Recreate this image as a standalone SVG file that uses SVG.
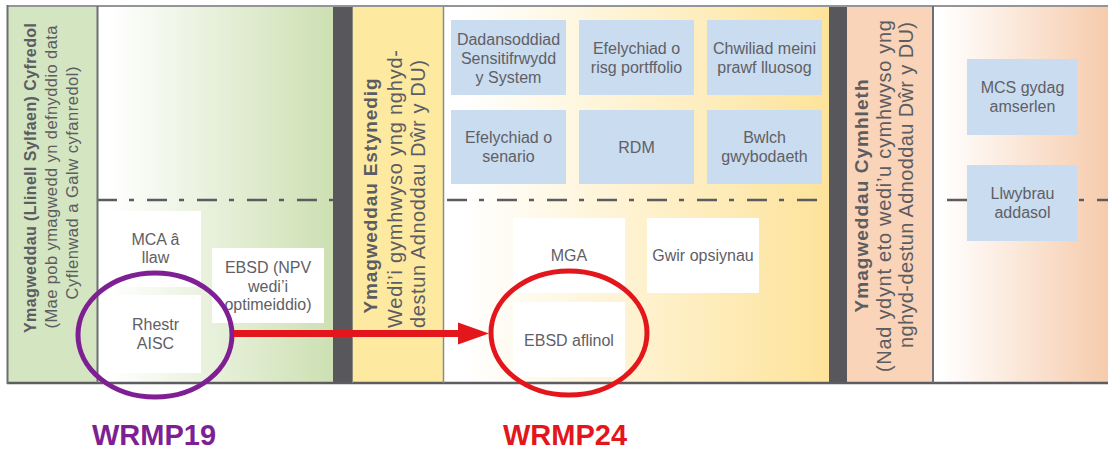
<svg xmlns="http://www.w3.org/2000/svg" width="1108" height="450" viewBox="0 0 1108 450">
<defs>
<linearGradient id="gGreen" x1="0" y1="0" x2="1" y2="0">
<stop offset="0" stop-color="#ffffff"/><stop offset="0.05" stop-color="#ffffff"/><stop offset="1" stop-color="#cde0b2"/>
</linearGradient>
<linearGradient id="gYellow" x1="0" y1="0" x2="1" y2="0">
<stop offset="0" stop-color="#ffffff"/><stop offset="0.05" stop-color="#ffffff"/><stop offset="1" stop-color="#fde39a"/>
</linearGradient>
<linearGradient id="gOrange" x1="0" y1="0" x2="1" y2="0">
<stop offset="0" stop-color="#ffffff"/><stop offset="0.05" stop-color="#ffffff"/><stop offset="1" stop-color="#f6cbac"/>
</linearGradient>
<style>
.t{font-family:"Liberation Sans",Arial,sans-serif;font-size:16px;fill:#5f6065;text-anchor:middle}
.v{font-family:"Liberation Sans",Arial,sans-serif;fill:#5c5d62;text-anchor:middle}
.b{font-weight:bold}
.blue{fill:#cadcf0}
.white{fill:#ffffff}
.bar{fill:#58575c}
.lab{font-family:"Liberation Sans",Arial,sans-serif;font-size:29px;font-weight:bold;text-anchor:start}
</style>
</defs>

<g id="background">
<rect x="98" y="6" width="235" height="377" fill="url(#gGreen)"/>
<rect x="444" y="6" width="385" height="377" fill="url(#gYellow)"/>
<rect x="933" y="6" width="175" height="377" fill="url(#gOrange)"/>
<line x1="97" y1="200" x2="1108" y2="200" stroke="#5c5b60" stroke-width="2.5" stroke-dasharray="20 12 5 13"/>
</g>

<g id="col-current">
<rect x="8" y="6" width="89" height="377" fill="#d4e5c1"/>
<text class="v b" font-size="16" transform="translate(36,178) rotate(-90)" textLength="310" lengthAdjust="spacing">Ymagweddau (Llinell Sylfaen) Cyfredol</text>
<text class="v" font-size="16.5" transform="translate(57,177) rotate(-90)" textLength="303" lengthAdjust="spacing">(Mae pob ymagwedd yn defnyddio data</text>
<text class="v" font-size="16.5" transform="translate(78,183) rotate(-90)" textLength="233" lengthAdjust="spacing">Cyflenwad a Galw cyfanredol)</text>
</g>

<rect class="bar" x="333" y="6" width="19" height="377"/>

<g id="col-extended">
<rect x="352" y="6" width="92" height="377" fill="#fee9a1"/>
<text class="v b" font-size="19" transform="translate(377,196) rotate(-90)" textLength="235" lengthAdjust="spacing">Ymagweddau Estynedig</text>
<text class="v" font-size="20" transform="translate(402,189) rotate(-90)" textLength="278" lengthAdjust="spacing">Wedi’i gymhwyso yng nghyd-</text>
<text class="v" font-size="20" transform="translate(425,194) rotate(-90)" textLength="268" lengthAdjust="spacing">destun Adnoddau Dŵr y DU)</text>
</g>

<rect class="bar" x="829" y="6" width="18" height="377"/>

<g id="col-complex">
<rect x="847" y="6" width="86" height="377" fill="#f9d4b8"/>
<text class="v b" font-size="19" transform="translate(868,196) rotate(-90)" textLength="233" lengthAdjust="spacing">Ymagweddau Cymhleth</text>
<text class="v" font-size="20" transform="translate(891,196) rotate(-90)" textLength="352" lengthAdjust="spacing">(Nad ydynt eto wedi’u cymhwyso yng</text>
<text class="v" font-size="20" transform="translate(913,185) rotate(-90)" textLength="326" lengthAdjust="spacing">nghyd-destun Adnoddau Dŵr y DU)</text>
</g>

<g id="borders" fill="none">
<line x1="7" y1="6" x2="1108" y2="6" stroke="#949599" stroke-width="2"/>
<line x1="7" y1="383" x2="1108" y2="383" stroke="#5d5d61" stroke-width="2.5"/>
<line x1="7.5" y1="5" x2="7.5" y2="384" stroke="#6d6e71" stroke-width="2"/>
<line x1="97.5" y1="6" x2="97.5" y2="383" stroke="#6d6e71" stroke-width="2"/>
<line x1="352.5" y1="6" x2="352.5" y2="383" stroke="#8a8a7a" stroke-width="1"/>
<line x1="443.5" y1="6" x2="443.5" y2="383" stroke="#8a8a8d" stroke-width="1.5"/>
<line x1="933" y1="6" x2="933" y2="383" stroke="#6d6e71" stroke-width="2"/>
</g>

<g id="n-mca">
<rect class="white" x="110" y="211" width="91" height="76"/>
<text class="t" x="155.5" y="245">MCA â</text>
<text class="t" x="155.5" y="263">llaw</text>
</g>
<g id="n-rhestr">
<rect class="white" x="110" y="295" width="91" height="78"/>
<text class="t" x="155.5" y="330">Rhestr</text>
<text class="t" x="155.5" y="349">AISC</text>
</g>
<g id="n-ebsd-npv">
<rect class="white" x="212" y="248" width="112" height="75"/>
<text class="t" x="268" y="273">EBSD (NPV</text>
<text class="t" x="268" y="292">wedi’i</text>
<text class="t" x="268" y="310">optimeiddio)</text>
</g>

<g id="n-dadansoddiad">
<rect class="blue" x="451" y="20" width="115" height="75"/>
<text class="t" x="508.5" y="45">Dadansoddiad</text>
<text class="t" x="508.5" y="64">Sensitifrwydd</text>
<text class="t" x="508.5" y="83">y System</text>
</g>
<g id="n-efelychiad-risg">
<rect class="blue" x="579" y="20" width="115" height="75"/>
<text class="t" x="636.5" y="54">Efelychiad o</text>
<text class="t" x="636.5" y="73">risg portffolio</text>
</g>
<g id="n-chwiliad">
<rect class="blue" x="707" y="20" width="115" height="75"/>
<text class="t" x="764.5" y="54">Chwiliad meini</text>
<text class="t" x="764.5" y="73">prawf lluosog</text>
</g>
<g id="n-efelychiad-senario">
<rect class="blue" x="451" y="110" width="115" height="74"/>
<text class="t" x="508.5" y="143">Efelychiad o</text>
<text class="t" x="508.5" y="162">senario</text>
</g>
<g id="n-rdm">
<rect class="blue" x="579" y="110" width="115" height="74"/>
<text class="t" x="636.5" y="153">RDM</text>
</g>
<g id="n-bwlch">
<rect class="blue" x="707" y="110" width="115" height="74"/>
<text class="t" x="764.5" y="143">Bwlch</text>
<text class="t" x="764.5" y="162">gwybodaeth</text>
</g>

<g id="n-mga">
<rect class="white" x="513" y="218" width="112" height="75"/>
<text class="t" x="569" y="261">MGA</text>
</g>
<g id="n-gwir">
<rect class="white" x="647" y="218" width="112" height="75"/>
<text class="t" x="703" y="261">Gwir opsiynau</text>
</g>
<g id="n-ebsd-aflinol">
<rect class="white" x="513" y="302" width="112" height="75"/>
<text class="t" x="569" y="346">EBSD aflinol</text>
</g>

<g id="n-mcs">
<rect class="blue" x="967" y="59" width="111" height="76"/>
<text class="t" x="1022.5" y="93">MCS gydag</text>
<text class="t" x="1022.5" y="112">amserlen</text>
</g>
<g id="n-llwybrau">
<rect class="blue" x="967" y="165" width="111" height="76"/>
<text class="t" x="1022.5" y="199">Llwybrau</text>
<text class="t" x="1022.5" y="218">addasol</text>
</g>

<g id="n-wrmp19">
<ellipse cx="155" cy="335" rx="77" ry="62" fill="none" stroke="#7e1f94" stroke-width="5"/>
<text class="lab" x="92" y="445" fill="#7e1f94">WRMP19</text>
</g>
<g id="n-wrmp24">
<ellipse cx="569" cy="333" rx="78" ry="62" fill="none" stroke="#e3161c" stroke-width="5"/>
<text class="lab" x="503" y="445" fill="#e3161c">WRMP24</text>
</g>

<g id="connectors">
<line x1="234" y1="333.5" x2="460" y2="333.5" stroke="#e3161c" stroke-width="7"/>
<polygon points="458,322.5 489,333.5 458,344.5" fill="#e3161c"/>
</g>
</svg>
